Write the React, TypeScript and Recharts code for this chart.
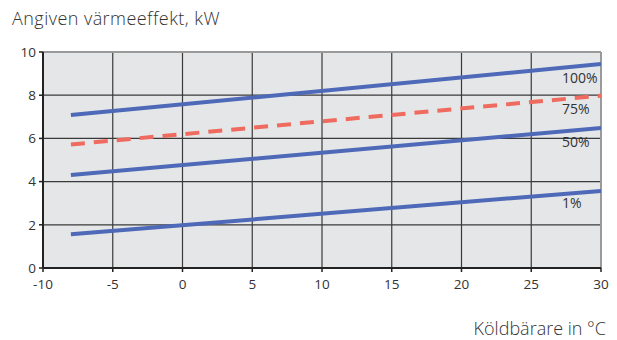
import React from 'react';
import { LineChart, Line, XAxis, YAxis, CartesianGrid, ReferenceDot, ReferenceLine } from 'recharts';

const xTicks = [-10, -5, 0, 5, 10, 15, 20, 25, 30];
const yTicks = [0, 2, 4, 6, 8, 10];

const line100 = [{ x: -8, y: 7.08 }, { x: 30, y: 9.44 }];
const line75 = [{ x: -8, y: 5.72 }, { x: 30, y: 7.98 }];
const line50 = [{ x: -8, y: 4.31 }, { x: 30, y: 6.48 }];
const line1 = [{ x: -8, y: 1.56 }, { x: 30, y: 3.57 }];

const seriesLabels = [
  { text: '100%', x: 27.2, y: 8.8 },
  { text: '75%', x: 27.2, y: 7.36 },
  { text: '50%', x: 27.2, y: 5.85 },
  { text: '1%', x: 27.2, y: 3.0 },
];

const FONT = '"Open Sans", "DejaVu Sans", sans-serif';
const BLUE = '#4d69b8';
const RED = '#ef6b5f';

export default function App() {
  return (
    <div style={{ position: 'absolute', left: 0, top: 0, width: 617, height: 340, background: '#fff', fontFamily: FONT }}>
      <div style={{ position: 'absolute', left: 12, top: 6, fontSize: 18, fontWeight: 300, color: '#333', letterSpacing: 0.45, whiteSpace: 'nowrap' }}>
        Angiven värmeeffekt, kW
      </div>
      <div style={{ position: 'absolute', right: 11, top: 316, fontSize: 18, fontWeight: 300, color: '#333', letterSpacing: 0, whiteSpace: 'nowrap' }}>
        Köldbärare in °C
      </div>
      <LineChart
        width={617}
        height={340}
        margin={{ top: 52, right: 16, bottom: 42, left: 0 }}
        style={{ position: 'absolute', left: 0, top: 0 }}
      >
        <CartesianGrid fill="#e5e6e8" stroke="#3a3a3a" strokeWidth={1.2} />
        <XAxis
          type="number"
          dataKey="x"
          domain={[-10, 30]}
          ticks={xTicks}
          height={30}
          allowDataOverflow
          stroke="#222"
          strokeWidth={2}
          tickSize={4}
          tick={{ fill: '#333', fontSize: 13.5, fontFamily: FONT }}
          tickLine={{ stroke: '#222', strokeWidth: 1.5 }}
          tickMargin={7}
        />
        <YAxis
          type="number"
          dataKey="y"
          domain={[0, 10]}
          ticks={yTicks}
          width={43}
          allowDataOverflow
          stroke="#222"
          strokeWidth={2}
          tickSize={4}
          tick={{ fill: '#333', fontSize: 13.5, fontFamily: FONT }}
          tickLine={{ stroke: '#222', strokeWidth: 1.5 }}
          tickMargin={3}
        />
        <ReferenceLine y={10} stroke="#9a9a9a" strokeWidth={2} />
        <ReferenceLine x={30} stroke="#9a9a9a" strokeWidth={2} />
        <Line data={line1} dataKey="y" stroke={BLUE} strokeWidth={4} dot={false} isAnimationActive={false} />
        <Line data={line50} dataKey="y" stroke={BLUE} strokeWidth={4} dot={false} isAnimationActive={false} />
        <Line data={line75} dataKey="y" stroke={RED} strokeWidth={4} strokeDasharray="14 9" dot={false} isAnimationActive={false} />
        <Line data={line100} dataKey="y" stroke={BLUE} strokeWidth={4} dot={false} isAnimationActive={false} />
        {seriesLabels.map((l) => (
          <ReferenceDot
            key={l.text}
            x={l.x}
            y={l.y}
            r={0}
            ifOverflow="visible"
            shape={(p: any) => (
              <text x={p.cx} y={p.cy} dy="0.35em" textAnchor="start" fill="#333" fontSize={14} fontFamily={FONT}>
                {l.text}
              </text>
            )}
          />
        ))}
      </LineChart>
    </div>
  );
}
